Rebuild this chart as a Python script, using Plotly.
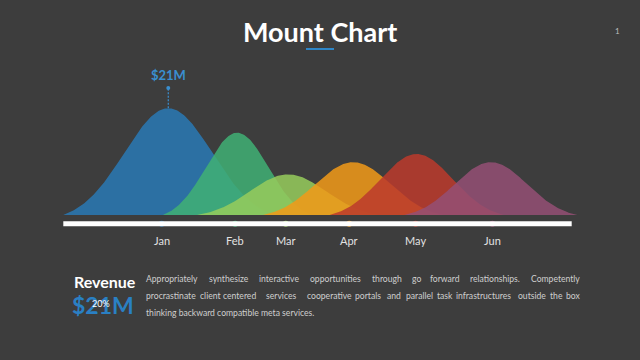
import numpy as np
import plotly.graph_objects as go

# ---------------- data ----------------
months = ["Jan", "Feb", "Mar", "Apr", "May", "Jun"]
revenue_m = [21.0, 16.2, 8.0, 10.4, 12.0, 10.4]          # peak heights ($M)
peak_pos = [20.65, 34.2, 44.2, 57.0, 69.5, 84.1]          # timeline position of each peak (0-100 scale)
spread = [20.65, 14.6, 17.9, 17.7, 17.1, 17.0]            # half-width of each mountain (timeline units)
tick_pos = [19.35, 33.8, 43.75, 56.25, 69.3, 84.4]        # month markers on the timeline
colors = ["#2a79b5", "#40b074", "#96cc5c", "#f19a19", "#bb3a2c", "#944f74"]
highlight_label = "$21M"
headline_value = "$21M"
headline_pct = "20%"
paragraph_lines = [
    ["Appropriately", "synthesize", "interactive", "opportunities", "through", "go", "forward", "relationships.", "Competently"],
    ["procrastinate", "client", "centered", "services", "cooperative", "portals", "and", "parallel", "task", "infrastructures", "outside", "the", "box"],
    ["thinking backward compatible meta services."],
]

# ---------------- layout constants (pixels) ----------------
W, H = 640, 360
BG = "#3d3d3d"
X0_PX, PX_PER_UNIT = 63.3, 5.084          # timeline 0 at 63.3px
BASE_PX, PX_PER_M = 215.0, 106.7 / 21.0   # baseline pixel and px per $M
FONT = "Lato"
PFS = 8.6


def hexrgba(h, a):
    h = h.lstrip("#")
    r, g, b = int(h[0:2], 16), int(h[2:4], 16), int(h[4:6], 16)
    return f"rgba({r},{g},{b},{a})"


def px(x):
    return x / W


def py(y):
    return 1 - y / H


fig = go.Figure()

# mountains
for m, v, c, w, col in zip(months, revenue_m, peak_pos, spread, colors):
    t = np.linspace(-1, 1, 201)
    s = 0.42
    e1 = np.exp(-1 / (2 * s * s))
    shape = (np.exp(-t ** 2 / (2 * s * s)) - e1) / (1 - e1)
    fig.add_trace(go.Scatter(
        x=c + w * t, y=v * shape, mode="lines", fill="tozeroy",
        fillcolor=hexrgba(col, 0.86), line=dict(width=0, color=hexrgba(col, 0.86)),
        hoverinfo="skip", showlegend=False, name=m))

BAR_Y = -(223.7 - BASE_PX) / PX_PER_M

# timeline bar
fig.add_shape(type="line", xref="x", yref="y", x0=0, x1=100, y0=BAR_Y, y1=BAR_Y,
              line=dict(color="white", width=5))

# month dots
fig.add_trace(go.Scatter(
    x=tick_pos, y=[BAR_Y] * len(tick_pos), mode="markers",
    marker=dict(size=6, color=colors, line=dict(width=0)),
    hoverinfo="skip", showlegend=False))

# month labels
for m, tp in zip(months, tick_pos):
    fig.add_annotation(x=tp, y=py(241), xref="x", yref="paper", text=m, showarrow=False,
                       font=dict(family=FONT, size=11, color="#e2e2e2"),
                       xanchor="center", yanchor="middle")

# highlight on the tallest mountain
imax = int(np.argmax(revenue_m))
top_y = revenue_m[imax]
lead_y = (BASE_PX - 88) / PX_PER_M
fig.add_trace(go.Scatter(
    x=[peak_pos[imax], peak_pos[imax]], y=[top_y, lead_y], mode="lines",
    line=dict(color="#3a8fd0", width=1.2, dash="2px,1.5px"), hoverinfo="skip", showlegend=False))
fig.add_trace(go.Scatter(
    x=[peak_pos[imax]], y=[lead_y], mode="markers",
    marker=dict(size=4, color="#3a8fd0"), hoverinfo="skip", showlegend=False))
fig.add_annotation(x=peak_pos[imax], y=py(75), xref="x", yref="paper", text=f"<b>{highlight_label}</b>",
                   showarrow=False, font=dict(family=FONT, size=13, color="#3a8fd0"),
                   xanchor="center", yanchor="middle")

# title, underline, page number
fig.add_annotation(x=0.5, y=py(31), xref="paper", yref="paper", text="<b>Mount Chart</b>",
                   showarrow=False, font=dict(family=FONT, size=27, color="white"),
                   xanchor="center", yanchor="middle")
fig.add_shape(type="line", xref="paper", yref="paper", x0=px(306), x1=px(334), y0=py(49), y1=py(49),
              line=dict(color="#2e86c8", width=2))
fig.add_annotation(x=px(617), y=py(31), xref="paper", yref="paper", text="1", showarrow=False,
                   font=dict(family=FONT, size=8, color="#bdbdbd"), xanchor="center", yanchor="middle")

# bottom block
fig.add_annotation(x=px(72), y=py(281), xref="paper", yref="paper", text="<b>Revenue</b>",
                   showarrow=False, font=dict(family=FONT, size=16, color="white"),
                   xanchor="left", yanchor="middle")
fig.add_annotation(x=px(70), y=py(305), xref="paper", yref="paper", text=f"<b>{headline_value}</b>",
                   showarrow=False, font=dict(family=FONT, size=23, color="#2a80c4"),
                   xanchor="left", yanchor="middle")
fig.add_annotation(x=px(101), y=py(303), xref="paper", yref="paper", text=headline_pct,
                   showarrow=False, font=dict(family=FONT, size=9, color="white"),
                   xanchor="center", yanchor="middle")

# justified paragraph: word start positions (px) for the two justified lines
word_x = [
    [144.3, 206.7, 257.3, 308.3, 370, 410, 428.3, 467.7, None],
    [144.3, 197.5, 221, 264, 305, 353, 384.5, 404, 435, 454, 516, 548.3, None],
    [144.3],
]
line_y = [279.3, 296.3, 313]
for words, xs, ly in zip(paragraph_lines, word_x, line_y):
    for wd, wx in zip(words, xs):
        if wx is None:
            fig.add_annotation(x=px(581.5), y=py(ly), xref="paper", yref="paper", text=wd,
                               showarrow=False, font=dict(family=FONT, size=PFS, color="#cfcfcf"),
                               xanchor="right", yanchor="middle")
        else:
            fig.add_annotation(x=px(wx), y=py(ly), xref="paper", yref="paper", text=wd,
                               showarrow=False, font=dict(family=FONT, size=PFS, color="#cfcfcf"),
                               xanchor="left", yanchor="middle")

x_lo = -X0_PX / PX_PER_UNIT
x_hi = (W - X0_PX) / PX_PER_UNIT
y_lo = -(H - BASE_PX) / PX_PER_M
y_hi = BASE_PX / PX_PER_M

fig.update_layout(
    width=W, height=H, margin=dict(l=0, r=0, t=0, b=0),
    paper_bgcolor=BG, plot_bgcolor=BG, showlegend=False,
    xaxis=dict(range=[x_lo, x_hi], visible=False, fixedrange=True),
    yaxis=dict(range=[y_lo, y_hi], visible=False, fixedrange=True),
)

fig.write_html(
    "out.html",
    config={"displayModeBar": False},
    post_script="document.body.style.margin='0';document.body.style.padding='0';"
                "document.body.style.background='" + BG + "';",
)
